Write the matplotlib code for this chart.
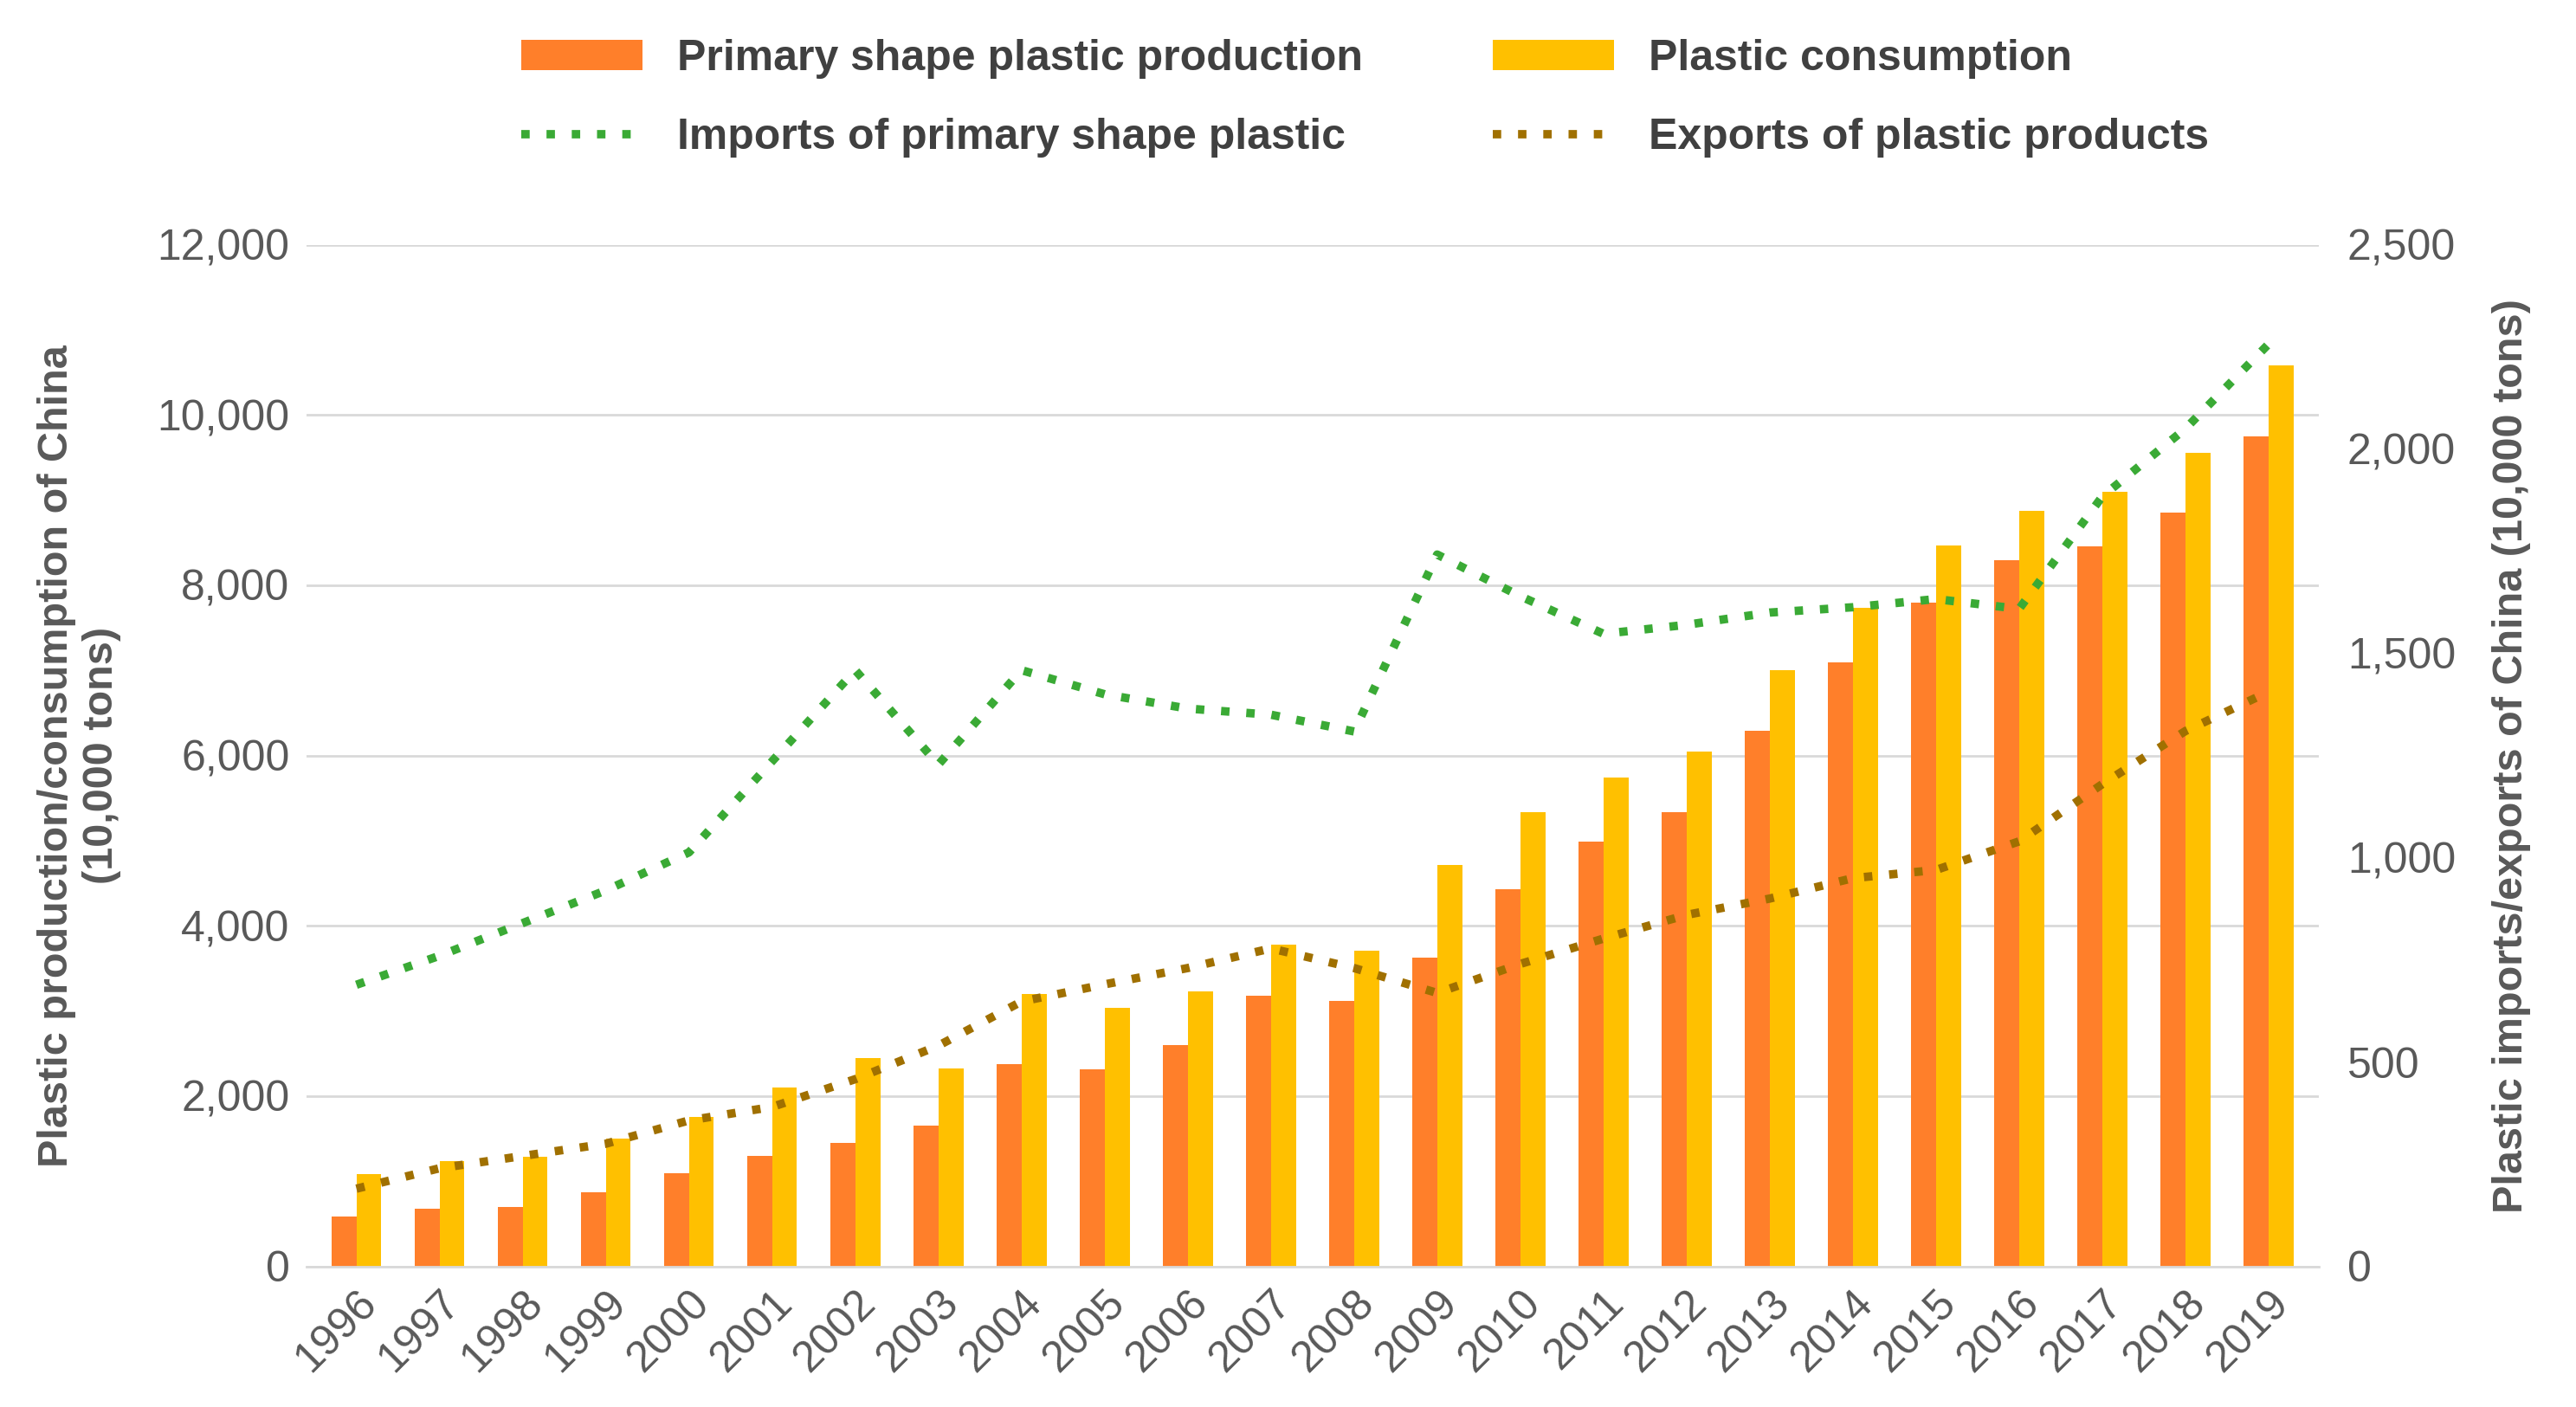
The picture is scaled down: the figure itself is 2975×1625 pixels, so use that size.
import numpy as np
import matplotlib
matplotlib.use("Agg")
import matplotlib.pyplot as plt

years = [str(y) for y in range(1996, 2020)]
production = [580, 680, 700, 870, 1090, 1300, 1450, 1650, 2370, 2310, 2600, 3180,
              3120, 3630, 4430, 4990, 5330, 6290, 7090, 7800, 8300, 8460, 8850, 9750]
consumption = [1080, 1240, 1290, 1500, 1750, 2100, 2450, 2320, 3200, 3040, 3230, 3780,
               3710, 4710, 5330, 5740, 6050, 7000, 7740, 8470, 8870, 9100, 9560, 10580]
imports = [689, 760, 840, 920, 1013, 1236, 1459, 1228, 1459, 1400, 1365, 1350,
           1309, 1742, 1640, 1548, 1570, 1600, 1613, 1633, 1609, 1884, 2050, 2257]
exports = [190, 240, 270, 300, 357, 390, 458, 540, 648, 690, 730, 778,
           730, 669, 740, 802, 860, 900, 950, 970, 1040, 1180, 1310, 1406]

plt.rcParams["font.family"] = "Liberation Sans"
fig, ax = plt.subplots(figsize=(29.75, 16.25), dpi=100)
fig.subplots_adjust(left=0.119, right=0.9, top=0.826, bottom=0.1)
x = np.arange(len(years))
w = 0.3
b1 = ax.bar(x - w / 2, production, w, color="#FF7F2A", label="Primary shape plastic production")
b2 = ax.bar(x + w / 2, consumption, w, color="#FFC000", label="Plastic consumption")
ax.set_ylim(0, 12000)
ax.set_yticks(range(0, 12001, 2000))
ax.set_yticklabels([f"{v:,}" for v in range(0, 12001, 2000)])
ax.set_xlim(-0.6, len(years) - 0.4)
ax.set_xticks(x)
ax.set_xticklabels(years, rotation=45, ha="right", rotation_mode="anchor")
ax.grid(axis="y", color="#D9D9D9", linewidth=2)
ax.set_axisbelow(True)
for s in ["top", "right", "left"]:
    ax.spines[s].set_visible(False)
ax.spines["bottom"].set_color("#D9D9D9")
ax.spines["bottom"].set_linewidth(2)
ax.tick_params(length=0, labelsize=36, colors="#595959", pad=14)
ax.set_ylabel("Plastic production/consumption of China\n(10,000 tons)",
              fontsize=35, fontweight="bold", color="#595959", labelpad=30)

ax2 = ax.twinx()
l1, = ax2.plot(x, imports, linestyle=(0, (1, 2)), color="#3AAA35", linewidth=7,
               label="Imports of primary shape plastic")
l2, = ax2.plot(x, exports, linestyle=(0, (1, 2)), color="#A07000", linewidth=7,
               label="Exports of plastic products")
ax2.set_ylim(0, 2500)
ax2.set_yticks(range(0, 2501, 500))
ax2.set_yticklabels([f"{v:,}" for v in range(0, 2501, 500)])
for s in ax2.spines.values():
    s.set_visible(False)
ax2.tick_params(length=0, labelsize=36, colors="#595959", pad=24)
ax2.set_ylabel("Plastic imports/exports of China (10,000 tons)",
               fontsize=35, fontweight="bold", color="#595959", labelpad=30)

handles = [b1, l1, b2, l2]
fig.legend(handles, [h.get_label() for h in handles],
           loc="upper center", bbox_to_anchor=(0.53, 1.0), ncol=2, frameon=False,
           prop={"size": 36, "weight": "bold"}, labelcolor="#404040",
           columnspacing=3, handlelength=2.8, labelspacing=0.9)
fig.savefig("out.png", dpi=100)
